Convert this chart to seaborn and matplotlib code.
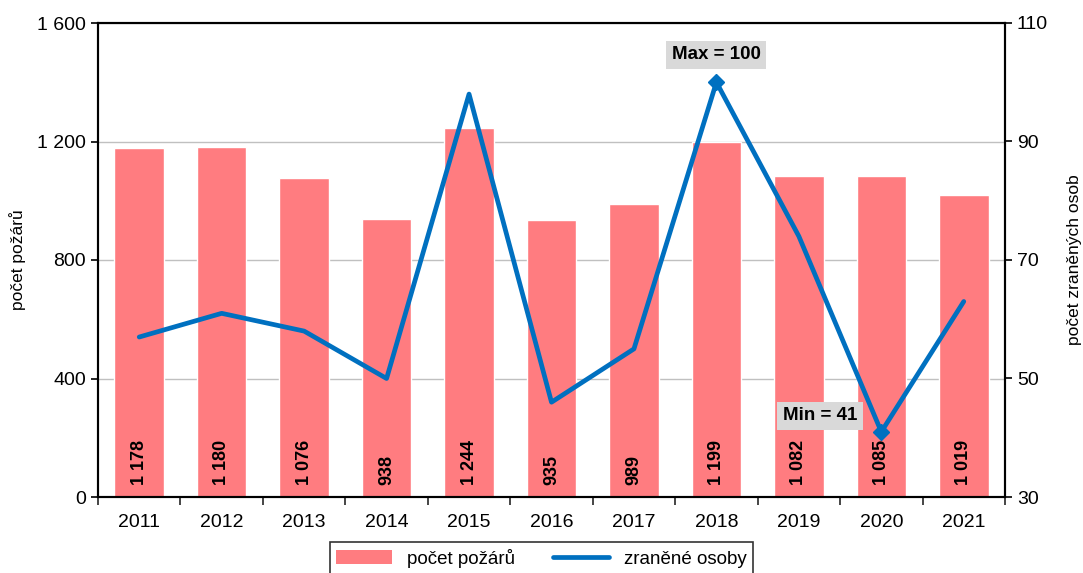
import matplotlib
matplotlib.use("Agg")
import matplotlib.pyplot as plt
import seaborn as sns
import pandas as pd
from matplotlib.lines import Line2D
from matplotlib.patches import Patch

years = ["2011", "2012", "2013", "2014", "2015", "2016", "2017", "2018", "2019", "2020", "2021"]
fires = [1178, 1180, 1076, 938, 1244, 935, 989, 1199, 1082, 1085, 1019]
injured = [57, 61, 58, 50, 98, 46, 55, 100, 74, 41, 63]

bar_color = "#FF7C80"
line_color = "#0070C0"

sns.set_theme(style="white")
plt.rcParams["font.family"] = ["Liberation Sans", "DejaVu Sans"]
plt.rcParams["text.color"] = "black"
plt.rcParams["axes.labelcolor"] = "black"

df = pd.DataFrame({"year": years, "fires": fires, "injured": injured})

fig = plt.figure(figsize=(10.83, 5.73), dpi=100)
ax = fig.add_axes([98 / 1083, 1 - 497 / 573, (1005 - 98) / 1083, (497 - 23) / 573])

sns.barplot(data=df, x="year", y="fires", color=bar_color, width=0.6, ax=ax,
            saturation=1, zorder=2)
ax.set_ylim(0, 1600)
ax.set_yticks([0, 400, 800, 1200, 1600])
ax.set_yticklabels(["0", "400", "800", "1 200", "1 600"])
ax.yaxis.grid(True, color="#C0C0C0", linewidth=1, zorder=0)
ax.set_axisbelow(True)
ax.set_xlim(-0.5, len(years) - 0.5)
ax.set_xlabel("")
ax.set_ylabel("počet požárů", fontsize=12.5, labelpad=8)

for i, v in enumerate(fires):
    ax.text(i, 42, f"{v:,}".replace(",", " "), rotation=90, ha="center", va="bottom",
            fontsize=13, fontweight="bold", color="black", zorder=5)

ax2 = ax.twinx()
ax2.set_position(ax.get_position())
sns.lineplot(data=df, x="year", y="injured", color=line_color, linewidth=3.4, ax=ax2,
             zorder=4, sort=False)
imax = injured.index(max(injured))
imin = injured.index(min(injured))
ax2.plot([imax, imin], [injured[imax], injured[imin]], linestyle="none", marker="D",
         markersize=8.5, color=line_color, zorder=5)
ax2.set_ylim(30, 110)
ax2.set_yticks([30, 50, 70, 90, 110])
ax2.set_ylabel("počet zraněných osob", fontsize=12.5, labelpad=14)
ax2.set_xlabel("")
ax.set_xlim(-0.5, len(years) - 0.5)

ax2.annotate(f"Max = {injured[imax]}", xy=(imax, injured[imax]), xytext=(imax, 104.6),
             ha="center", va="center", fontsize=13.5, fontweight="bold", color="black",
             bbox=dict(boxstyle="square,pad=0.3", fc="#D9D9D9", ec="none"), zorder=6)
ax2.annotate(f"Min = {injured[imin]}", xy=(imin, injured[imin]), xytext=(imin - 0.74, 43.7),
             ha="center", va="center", fontsize=13.5, fontweight="bold", color="black",
             bbox=dict(boxstyle="square,pad=0.3", fc="#D9D9D9", ec="none"), zorder=6)

for a in (ax, ax2):
    for s in a.spines.values():
        s.set_color("black")
        s.set_linewidth(1.5)
    a.tick_params(axis="both", labelsize=14, colors="black", length=5, width=1.2,
                  direction="out")

ax.set_xticks(range(len(years)))
ax.set_xticklabels(years)
ax.tick_params(axis="x", length=0, pad=12)
ax.tick_params(axis="y", left=True)
ax2.tick_params(axis="y", right=True)
ax.set_xticks([i - 0.5 for i in range(len(years) + 1)], minor=True)
ax.tick_params(axis="x", which="minor", length=6, width=1.2, bottom=True)
ax2.tick_params(axis="x", bottom=False, labelbottom=False)

handles = [Patch(facecolor=bar_color, edgecolor="none"),
           Line2D([0], [0], color=line_color, linewidth=3.4)]
leg = fig.legend(handles, ["počet požárů", "zraněné osoby"], loc="upper center",
                 bbox_to_anchor=(0.5, 1 - 542 / 573), ncol=2, frameon=True,
                 fontsize=13.5, fancybox=False, edgecolor="black", handlelength=3,
                 columnspacing=2.0, borderpad=0.35, borderaxespad=0)
leg.get_frame().set_linewidth(1.2)

fig.savefig("out.png", dpi=100)
